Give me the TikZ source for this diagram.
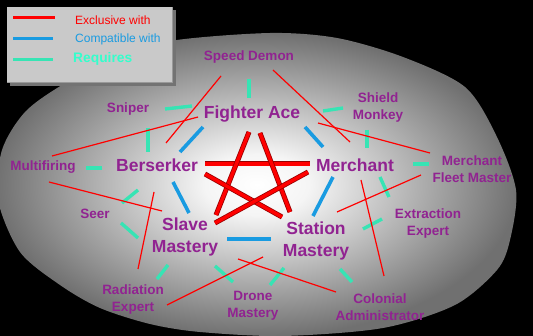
\documentclass[tikz,border=0pt]{standalone}
\usepackage{fontspec}
\setmainfont{Liberation Sans}
\usepackage{tikz}
\usetikzlibrary{calc}
\definecolor{skillpurple}{RGB}{145,35,145}
\definecolor{compatblue}{RGB}{25,155,225}
\definecolor{reqgreen}{RGB}{55,228,180}
\definecolor{reqtext}{RGB}{51,255,204}
\pgfdeclareradialshading{plate}{\pgfpoint{0bp}{0bp}}{color(0bp)=(white); color(5bp)=(white!96!black); color(25bp)=(black!56); color(50bp)=(black!56)}
\tikzset{
  skill/.style={font=\bfseries\fontsize{13.5}{17}\selectfont, text=skillpurple, align=center, inner sep=1pt},
  core/.style={skill, font=\bfseries\fontsize{17.5}{21.5}\selectfont},
  excl/.style={red, line width=1.2pt},
  compat/.style={compatblue, line width=3.6pt},
  req/.style={reqgreen, line width=3.4pt},
  pent/.style={draw=red!60!black, line width=0.8pt, double=red, double distance=3.4pt},
  legtext/.style={anchor=base west, inner sep=0pt}
}
\begin{document}
\begin{tikzpicture}[x=1pt,y=-1pt]
			\useasboundingbox (0,0) rectangle (533,336);
			\fill[black] (0,0) rectangle (533,336);
			\shade[shading=plate] plot[smooth cycle] coordinates {
				(270,33) (337,38) (403,57) (465,87) (496,135) (516,190) (510,240) (497,270)
				(455,305) (383,328) (283,336) (200,332) (150,324) (100,308) (60,285) (20,252)
				(-2,200) (2,150) (25,112) (62,85) (110,60) (170,41)};
			\fill[black!55] (10,10) rectangle (176,86);
			\fill[black!21] (7,7) rectangle (172,82);
			\draw[black!40] (7,82) -- (172,82) -- (172,7);
			\draw[red, line width=3pt] (13,18) -- (55,18);
			\draw[compatblue, line width=3pt] (13,39) -- (53,39);
			\draw[reqgreen, line width=3pt] (13,60) -- (53,60);
			\node[legtext, text=red, font=\fontsize{12}{14}\selectfont] (lexcl) at (75,25) {Exclusive with};
			\node[legtext, text=compatblue, font=\fontsize{12}{14}\selectfont] (lcompat) at (75,42.5) {Compatible with};
			\node[legtext, text=reqtext, font=\bfseries\fontsize{13.8}{16}\selectfont] (lreq) at (73,63) {Requires};
			\node[skill] (sd) at (249,57) {Speed Demon};
			\node[core] (fa) at (252,114) {Fighter Ace};
			\node[skill] (sniper) at (128,109) {Sniper};
			\node[skill] (shield) at (378,108) {Shield\\Monkey};
			\node[skill] (mult) at (43,167) {Multifiring};
			\node[core] (bers) at (157,165) {Berserker};
			\node[core] (merch) at (355,165) {Merchant};
			\node[skill] (mfm) at (472,169) {Merchant\\Fleet Master};
			\node[skill] (seer) at (95,214) {Seer};
			\node[core] (slave) at (185,237) {Slave\\Mastery};
			\node[core] (station) at (316,241) {Station\\Mastery};
			\node[skill] (extr) at (428,224) {Extraction\\Expert};
			\node[skill] (rad) at (133,300) {Radiation\\Expert};
			\node[skill] (drone) at (253,306) {Drone\\Mastery};
			\node[skill] (colon) at (380,307) {Colonial\\Administrator};
			\foreach \na/\ax/\ay/\nb/\bx/\by in {sd/0/22/fa/-3/-16, sniper/37/0/fa/-60/-8, sniper/20/19/bers/-9/-13,
				fa/71/-3/shield/-35/0, shield/-11/22/merch/12/-17, merch/58/-1/mfm/-43/-5, merch/25/12/extr/-39/-27,
				station/47/-12/extr/-46/-5, mult/43/1/bers/-55/3, seer/27/-11/bers/-19/25, seer/26/9/slave/-47/1,
				slave/-17/28/rad/24/-21, slave/30/29/drone/-20/-24, station/-32/27/drone/17/-21, station/24/28/colon/-28/-25}{
				\draw[req] ($(\na)+(\ax,\ay)$) -- ($(\nb)+(\bx,\by)$);
			}
			\foreach \na/\ax/\ay/\nb/\bx/\by in {fa/-49/13/bers/23/-13, fa/53/13/merch/-32/-18, bers/16/17/slave/4/-24,
				merch/-22/12/station/-3/-25, slave/42/2/station/-45/-2}{
				\draw[compat] ($(\na)+(\ax,\ay)$) -- ($(\nb)+(\bx,\by)$);
			}
			\foreach \na/\ax/\ay/\nb/\bx/\by in {sd/-28/19/bers/9/-22, sd/24/13/merch/-5/-23, fa/-54/3/mult/9/-11,
				fa/66/9/mfm/-42/-16, mult/6/15/slave/-23/-26, bers/-3/27/rad/5/-31, mfm/-51/6/station/21/-29,
				merch/6/15/colon/4/-31, rad/34/5/station/-53/16, slave/53/22/colon/-44/-15}{
				\draw[excl] ($(\na)+(\ax,\ay)$) -- ($(\nb)+(\bx,\by)$);
			}
			\foreach \na/\ax/\ay/\nb/\bx/\by in {bers/48/-1/merch/-45/-1, fa/-3/18/slave/31/-22, fa/8/19/station/-26/-29,
				bers/48/9/station/-34/-24, merch/-47/7/slave/30/-14}{
				\draw[pent] ($(\na)+(\ax,\ay)$) -- ($(\nb)+(\bx,\by)$);
			}
		\end{tikzpicture}
\end{document}
